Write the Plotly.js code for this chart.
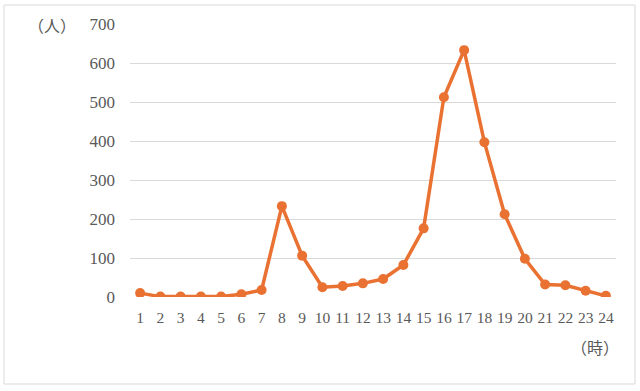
<!DOCTYPE html>
<html>
<head>
<meta charset="utf-8">
<script src="https://cdn.plot.ly/plotly-3.0.1.min.js"></script>
<style>
html,body{margin:0;padding:0;background:#fff;}
#chart{width:640px;height:391px;}
</style>
</head>
<body>
<div id="chart"></div>
<script>
const hours = [1,2,3,4,5,6,7,8,9,10,11,12,13,14,15,16,17,18,19,20,21,22,23,24];
const people = [10,1,1,1,1,7,18,233,106,25,28,35,46,82,176,512,633,397,212,98,32,30,16,3];
const yTicks = [0,100,200,300,400,500,600,700];
const yUnit = '（人）';
const xUnit = '（時）';

const fontFam = '"Liberation Serif", "DejaVu Serif", "Noto Sans CJK JP", serif';
const trace = {
  x: hours, y: people, type: 'scatter', mode: 'lines+markers',
  line: {color: '#E97132', width: 3.5},
  marker: {color: '#E97132', size: 10},
  hoverinfo: 'skip'
};
const layout = {
  width: 640, height: 391,
  margin: {l: 130, r: 24, t: 24, b: 94},
  paper_bgcolor: '#fff', plot_bgcolor: '#fff',
  showlegend: false,
  font: {family: fontFam, color: '#595959', size: 16},
  xaxis: {
    range: [0.5, 24.5], tickmode: 'array', tickvals: hours, ticktext: hours.map(String),
    showgrid: false, zeroline: false, showline: false, ticks: '', fixedrange: true,
    tickfont: {size: 15.5, family: fontFam, color: '#595959'}, ticklabelstandoff: 9
  },
  yaxis: {
    range: [0, 700], tickmode: 'array', tickvals: yTicks,
    showgrid: true, gridcolor: '#D9D9D9', gridwidth: 1, zeroline: false, showline: false,
    ticks: '', tickfont: {size: 17, family: fontFam, color: '#595959'}, ticklabelstandoff: 14,
    fixedrange: true
  },
  shapes: [{
    type: 'rect', xref: 'paper', yref: 'paper',
    x0: (4-130)/486, x1: (635-130)/486, y0: -(384-297)/273, y1: 1+(24-5)/273,
    line: {color: '#D9D9D9', width: 1}, fillcolor: 'rgba(0,0,0,0)', layer: 'below'
  }],
  annotations: [
    {text: yUnit, xref: 'paper', yref: 'paper', x: (52-130)/486, y: 1+(24-27)/273,
     showarrow: false, xanchor: 'center', yanchor: 'middle', font: {size: 16, color: '#595959', family: fontFam}},
    {text: xUnit, xref: 'paper', yref: 'paper', x: (595-130)/486, y: -(348-297)/273,
     showarrow: false, xanchor: 'center', yanchor: 'middle', font: {size: 16, color: '#595959', family: fontFam}}
  ]
};
Plotly.newPlot('chart', [trace], layout, {displayModeBar: false, staticPlot: true});
</script>
</body>
</html>
